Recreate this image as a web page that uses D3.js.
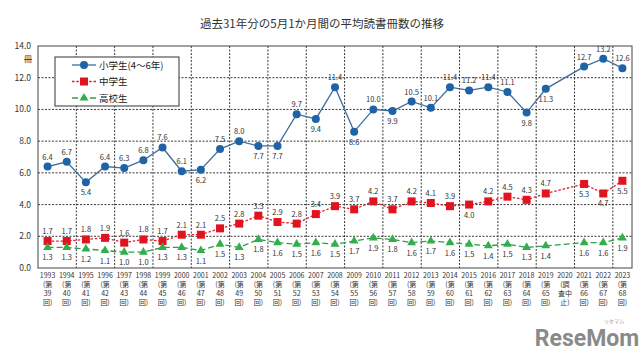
<!DOCTYPE html>
<html><head><meta charset="utf-8">
<script src="https://cdn.jsdelivr.net/npm/d3@7"></script>
<style>body{margin:0;background:#fff}svg{display:block;font-family:"Noto Sans CJK JP","Noto Sans",sans-serif}</style>
</head><body><svg id="c" width="640" height="360"></svg>
<script>
const years = ["1993","1994","1995","1996","1997","1998","1999","2000","2001","2002","2003","2004","2005","2006","2007","2008","2009","2010","2011","2012","2013","2014","2015","2016","2017","2018","2019","2020","2021","2022","2023"];
const surveys = ["39","40","41","42","43","44","45","46","47","48","49","50","51","52","53","54","55","56","57","58","59","60","61","62","63","64","65",null,"66","67","68"];
const elementary = [6.4,6.7,5.4,6.4,6.3,6.8,7.6,6.1,6.2,7.5,8.0,7.7,7.7,9.7,9.4,11.4,8.6,10.0,9.9,10.5,10.1,11.4,11.2,11.4,11.1,9.8,11.3,null,12.7,13.2,12.6];
const juniorHigh = [1.7,1.7,1.8,1.9,1.6,1.8,1.7,2.1,2.1,2.5,2.8,3.3,2.9,2.8,3.4,3.9,3.7,4.2,3.7,4.2,4.1,3.9,4.0,4.2,4.5,4.3,4.7,null,5.3,4.7,5.5];
const highSchool = [1.3,1.3,1.2,1.1,1.0,1.0,1.3,1.3,1.1,1.5,1.3,1.8,1.6,1.5,1.6,1.5,1.7,1.9,1.8,1.6,1.7,1.6,1.5,1.4,1.5,1.3,1.4,null,1.6,1.6,1.9];
// label placement: 1 = above, -1 = below
const elemPos = [1,1,-1,1,1,1,1,1,-1,1,1,-1,-1,1,-1,1,-1,1,-1,1,1,1,1,1,1,-1,-1,0,1,1,1];
const juniorPos = [1,1,1,1,1,1,1,1,1,1,1,1,1,1,1,1,1,1,1,1,1,1,-1,1,1,1,1,0,-1,-1,-1];
const highPos = years.map(()=>-1);
const yTicks = [0,2,4,6,8,10,12,14];
const seriesNames = ["小学生(4〜6年)","中学生","高校生"];
const title = "過去31年分の5月1か月間の平均読書冊数の推移";

const svg = d3.select("#c");
const L=38,R=632,T=46,B=268;
const x = d3.scaleBand().domain(years).range([L,R]);
const y = d3.scaleLinear().domain([0,14]).range([B,T]);
const cx = d => x(d)+x.bandwidth()/2;

svg.append("text").attr("x",322).attr("y",28).attr("text-anchor","middle").attr("font-size",11.5).attr("fill","#333").text(title);

// grid
const g = svg.append("g");
yTicks.slice(1,-1).forEach(t=>{
  g.append("line").attr("x1",L).attr("x2",R).attr("y1",y(t)).attr("y2",y(t)).attr("stroke","#222").attr("stroke-width",0.9).attr("stroke-dasharray","2,1.5");
});
years.forEach((yr,i)=>{
  if(i>0 && i%2===0){
    const xx = x(yr);
    g.append("line").attr("x1",xx).attr("x2",xx).attr("y1",T).attr("y2",B).attr("stroke","#222").attr("stroke-width",0.9).attr("stroke-dasharray","2,1.5");
  }
});
g.append("rect").attr("x",L).attr("y",T).attr("width",R-L).attr("height",B-T).attr("fill","none").attr("stroke","#444").attr("stroke-width",1);

// y axis labels
yTicks.forEach(t=>{
  svg.append("text").attr("x",31).attr("y",y(t)+3).attr("text-anchor","end").attr("font-size",8.5).attr("fill","#333").text(t.toFixed(1));
});
svg.append("text").attr("x",28).attr("y",62).attr("text-anchor","middle").attr("font-size",8.5).attr("fill","#333").text("冊");

// x labels
years.forEach((yr,i)=>{
  const lines = surveys[i]===null ? [yr,"(調","査中","止)"] : [yr,"(第",surveys[i],"回)"];
  const t = svg.append("text").attr("x",cx(yr)).attr("text-anchor","middle").attr("font-size",7).attr("fill","#333");
  lines.forEach((s,j)=>t.append("tspan").attr("x",cx(yr)).attr("y",278+j*9).text(s));
});

const series = [
  {vals:elementary,pos:elemPos,line:"#3d6d9c",mark:"#1f63a6",dash:null,shape:"circle"},
  {vals:juniorHigh,pos:juniorPos,line:"#e0202a",mark:"#e0141e",dash:"2.5,1.8",shape:"square"},
  {vals:highSchool,pos:highPos,line:"#2e9e48",mark:"#32ae4c",dash:"6,3",shape:"triangle"}
];
function marker(sel,shape,color,px,py){
  if(shape==="circle") sel.append("circle").attr("cx",px).attr("cy",py).attr("r",4).attr("fill",color);
  else if(shape==="square") sel.append("rect").attr("x",px-4).attr("y",py-4).attr("width",8).attr("height",8).attr("fill",color);
  else sel.append("path").attr("d",d3.symbol(d3.symbolTriangle,34)()).attr("transform",`translate(${px},${py})`).attr("fill",color);
}
series.forEach(s=>{
  const pts = years.map((yr,i)=>({yr,v:s.vals[i],p:s.pos[i]})).filter(d=>d.v!==null);
  const line = d3.line().x(d=>cx(d.yr)).y(d=>y(d.v));
  const p = svg.append("path").datum(pts).attr("d",line).attr("fill","none").attr("stroke",s.line).attr("stroke-width",1.3);
  if(s.dash) p.attr("stroke-dasharray",s.dash);
  pts.forEach(d=>marker(svg,s.shape,s.mark,cx(d.yr),y(d.v)));
  pts.forEach(d=>{
    svg.append("text").attr("x",cx(d.yr)).attr("y",y(d.v)+(d.p>0?-7:13)).attr("text-anchor","middle").attr("font-size",7.5).attr("fill","#333").text(d.v.toFixed(1));
  });
});

// legend
const lg = svg.append("g");
lg.append("rect").attr("x",55).attr("y",57).attr("width",124).attr("height",49).attr("fill","#fff").attr("stroke","#333").attr("stroke-width",1);
series.forEach((s,i)=>{
  const yy = 65+i*16.5;
  const l = lg.append("line").attr("x1",72).attr("x2",96).attr("y1",yy).attr("y2",yy).attr("stroke",s.line).attr("stroke-width",1.3);
  if(s.dash) l.attr("stroke-dasharray",s.dash);
  marker(lg,s.shape,s.mark,84,yy);
  lg.append("text").attr("x",99).attr("y",yy+3.5).attr("font-size",9.5).attr("fill","#222").text(seriesNames[i]);
});

// watermark
svg.append("text").attr("x",587).attr("y",346).attr("text-anchor","middle").attr("font-family","Roboto, sans-serif").attr("font-weight","bold").attr("font-size",23).attr("fill","#8a8a8a").text("ReseMom");
svg.append("text").attr("x",614).attr("y",323).attr("text-anchor","middle").attr("font-size",5).attr("fill","#999").text("リセマム");
</script></body></html>
